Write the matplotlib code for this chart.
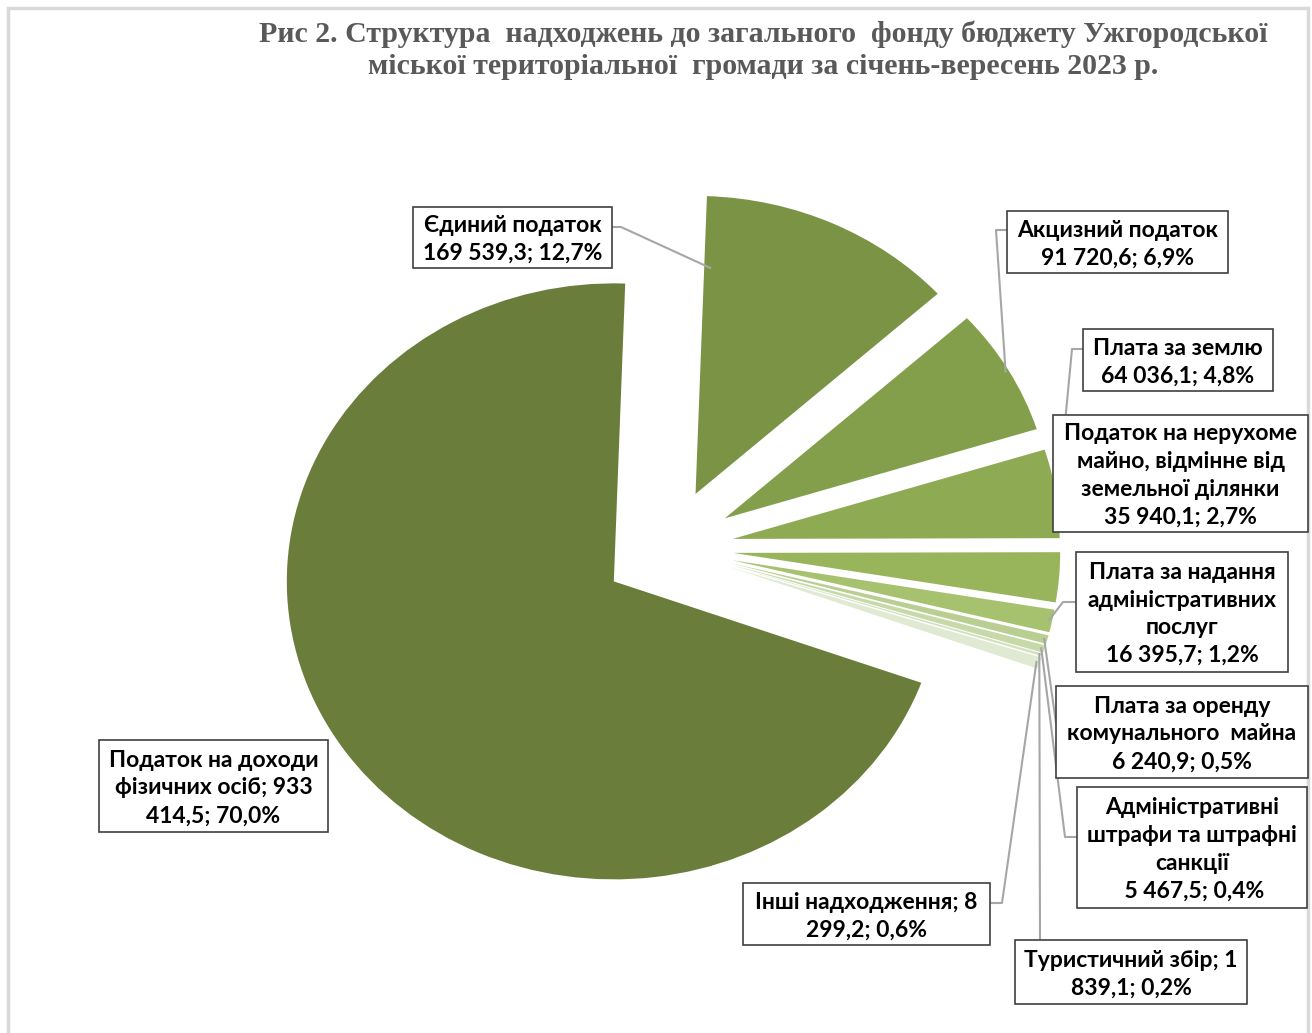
import matplotlib.pyplot as plt
from matplotlib.patches import Rectangle
import numpy as np

W, H = 1312, 1033

categories = ["Єдиний податок", "Акцизний податок", "Плата за землю",
              "Податок на нерухоме майно, відмінне від земельної ділянки",
              "Плата за надання адміністративних послуг",
              "Плата за оренду комунального майна",
              "Адміністративні штрафи та штрафні санкції",
              "Туристичний збір", "Інші надходження",
              "Податок на доходи фізичних осіб"]
values = [169539.3, 91720.6, 64036.1, 35940.1, 16395.7,
          6240.9, 5467.5, 1839.1, 8299.2, 933414.5]
labels = ["Єдиний податок\n169 539,3; 12,7%",
          "Акцизний податок\n91 720,6; 6,9%",
          "Плата за землю\n64 036,1; 4,8%",
          "Податок на нерухоме\nмайно, відмінне від\nземельної ділянки\n35 940,1; 2,7%",
          "Плата за надання\nадміністративних\nпослуг\n16 395,7; 1,2%",
          "Плата за оренду\nкомунального  майна\n6 240,9; 0,5%",
          "Адміністративні\nштрафи та штрафні\nсанкції\n 5 467,5; 0,4%",
          "Туристичний збір; 1\n839,1; 0,2%",
          "Інші надходження; 8\n299,2; 0,6%",
          "Податок на доходи\nфізичних осіб; 933\n414,5; 70,0%"]
colors = ["#7a9345", "#849f4c", "#8eaa53", "#98b55c", "#a6c26e",
          "#b9cf92", "#c8d9a9", "#d4e1be", "#e0e9d1", "#6b7d3a"]

# label boxes in picture pixels (x0, y0, x1, y1)
boxes = [(413, 207, 612, 268), (1007, 211, 1228, 273), (1083, 329, 1273, 391),
         (1053, 415, 1308, 532), (1076, 552, 1288, 672), (1056, 686, 1308, 778),
         (1077, 787, 1307, 908), (1015, 940, 1247, 1004), (743, 883, 990, 945),
         (99, 740, 328, 832)]
# leader lines: waypoints from box + (fraction across wedge, radius)
leaders = {0: ([(612, 227), (621, 227)], 0.97, 0.76),
           1: ([(1007, 230), (996, 230)], 0.5, 0.99),
           2: ([(1083, 349), (1072, 349)], 0.2, 0.99),
           4: ([(1076, 602), (1063, 602)], 0.5, 0.99),
           5: ([(1056, 723)], 0.5, 0.99),
           6: ([(1077, 837), (1065, 837)], 0.5, 0.99),
           7: ([(1040, 940)], 0.5, 0.99),
           8: ([(991, 903), (1002, 903)], 0.5, 0.99)}

cx, cy, rx, ry = 668, 548, 327, 298


def P(x, y):
    return (x - cx) / rx, (cy - y) / ry


fig = plt.figure(figsize=(W / 100, H / 100), dpi=100)
ax = fig.add_axes([0, 0, 1, 1])

wedges, _ = ax.pie(values, colors=colors, startangle=88, counterclock=False,
                   explode=[0.2] * len(values), radius=1,
                   wedgeprops=dict(linewidth=0))
ax.set_aspect('auto')
ax.set_xlim(-cx / rx, (W - cx) / rx)
ax.set_ylim(-(H - cy) / ry, cy / ry)
ax.axis('off')

# outer frame
x0, y0 = P(8, 8)
x1, y1 = P(1308, 1045)
ax.add_patch(Rectangle((x0, y1), x1 - x0, y0 - y1, fill=False,
                       edgecolor='#d9d9d9', linewidth=2.5, clip_on=False))

for i, pts in leaders.items():
    path, frac, r = pts
    w = wedges[i]
    t = np.deg2rad(w.theta1 + frac * (w.theta2 - w.theta1))
    ex = w.center[0] + r * np.cos(t)
    ey = w.center[1] + r * np.sin(t)
    xs = [P(*p)[0] for p in path] + [ex]
    ys = [P(*p)[1] for p in path] + [ey]
    ax.plot(xs, ys, color='#a6a6a6', linewidth=1.5, zorder=3)

for lab, (bx0, by0, bx1, by1) in zip(labels, boxes):
    a, b = P(bx0, by1)
    c, d = P(bx1, by0)
    ax.add_patch(Rectangle((a, b), c - a, d - b, facecolor='white',
                           edgecolor='#404040', linewidth=1.2, zorder=4))
    tx, ty = P((bx0 + bx1) / 2, (by0 + by1) / 2 + 2)
    ax.text(tx, ty, lab, ha='center', va='center',
            fontsize=16.5, fontweight='bold', family='Lato',
            linespacing=1.4, color='black', zorder=5)

tx, ty = P(763, 34)
ax.text(tx, ty, "Рис 2. Структура  надходжень до загального  фонду бюджету Ужгородської",
        ha='center', va='center', fontsize=21.5, fontweight='bold',
        family='Liberation Serif', color='#595959')
tx, ty = P(763, 67)
ax.text(tx, ty, "міської територіальної  громади за січень-вересень 2023 р.",
        ha='center', va='center', fontsize=21.5, fontweight='bold',
        family='Liberation Serif', color='#595959')

fig.savefig('out.png', dpi=100, facecolor='white')
